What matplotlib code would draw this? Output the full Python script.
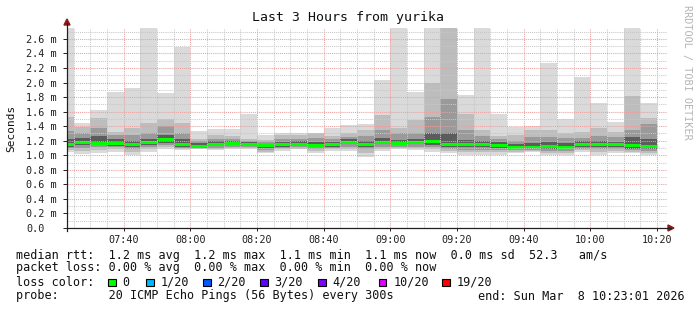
import matplotlib
matplotlib.use('Agg')
import matplotlib.pyplot as plt
import matplotlib.dates as mdates
import matplotlib.ticker as mticker
from matplotlib.patches import Rectangle, Polygon
from matplotlib.lines import Line2D
import datetime as dt

W, H = 697, 310
DPI = 100

title = "Last 3 Hours from yurika"
t_start = dt.datetime(2026, 3, 8, 7, 23, 1)
t_end = dt.datetime(2026, 3, 8, 10, 23, 1)
first_bin_end = dt.datetime(2026, 3, 8, 7, 25)
step_min = 5

# rtt quantiles per 5-minute bin (ms)
rtt_max = [3.0, 1.44, 1.62, 1.875, 1.93, 3.0, 1.86, 2.49, 1.34, 1.36, 1.36, 1.57,
           1.28, 1.30, 1.30, 1.31, 1.38, 1.42, 1.43, 2.04, 3.0, 1.875, 3.0, 3.0,
           1.83, 3.0, 1.57, 1.385, 1.40, 2.27, 1.50, 2.08, 1.72, 1.46, 3.0, 1.72]
rtt_p90 = [1.53, 1.39, 1.51, 1.32, 1.37, 1.44, 1.50, 1.44, 1.23, 1.28, 1.26, 1.23,
           1.21, 1.28, 1.28, 1.30, 1.26, 1.30, 1.35, 1.55, 1.37, 1.48, 1.99, 3.0,
           1.57, 1.35, 1.26, 1.28, 1.35, 1.35, 1.30, 1.32, 1.37, 1.32, 1.81, 1.51]
rtt_p75 = [1.33, 1.30, 1.38, 1.28, 1.28, 1.30, 1.40, 1.30, 1.20, 1.22, 1.22, 1.20,
           1.18, 1.22, 1.22, 1.24, 1.22, 1.25, 1.26, 1.35, 1.30, 1.30, 1.52, 1.77,
           1.35, 1.26, 1.22, 1.20, 1.25, 1.25, 1.24, 1.24, 1.26, 1.25, 1.35, 1.43]
rtt_p60 = [1.22, 1.24, 1.26, 1.22, 1.20, 1.23, 1.28, 1.22, 1.17, 1.19, 1.20, 1.18,
           1.16, 1.18, 1.19, 1.18, 1.18, 1.22, 1.19, 1.24, 1.21, 1.22, 1.30, 1.30,
           1.21, 1.20, 1.18, 1.15, 1.17, 1.18, 1.17, 1.20, 1.19, 1.18, 1.25, 1.22]
rtt_median = [1.155, 1.18, 1.175, 1.17, 1.155, 1.18, 1.22, 1.155, 1.13, 1.155, 1.175, 1.155,
              1.14, 1.15, 1.155, 1.14, 1.15, 1.185, 1.155, 1.185, 1.165, 1.185, 1.19, 1.155,
              1.15, 1.15, 1.14, 1.115, 1.11, 1.13, 1.12, 1.155, 1.15, 1.15, 1.14, 1.13]
rtt_p40 = [1.12, 1.14, 1.14, 1.13, 1.12, 1.14, 1.17, 1.12, 1.11, 1.13, 1.14, 1.13,
           1.10, 1.12, 1.13, 1.11, 1.12, 1.15, 1.12, 1.15, 1.14, 1.15, 1.14, 1.12,
           1.11, 1.11, 1.10, 1.09, 1.08, 1.09, 1.08, 1.12, 1.11, 1.12, 1.09, 1.09]
rtt_p25 = [1.10, 1.10, 1.11, 1.11, 1.08, 1.12, 1.14, 1.10, 1.10, 1.10, 1.11, 1.11,
           1.07, 1.10, 1.11, 1.08, 1.10, 1.11, 1.09, 1.12, 1.12, 1.12, 1.11, 1.09,
           1.07, 1.07, 1.07, 1.07, 1.07, 1.06, 1.06, 1.09, 1.08, 1.09, 1.07, 1.06]
rtt_p10 = [1.07, 1.06, 1.07, 1.08, 1.04, 1.08, 1.11, 1.09, 1.09, 1.09, 1.10, 1.10,
           1.05, 1.08, 1.09, 1.06, 1.08, 1.09, 1.03, 1.09, 1.10, 1.10, 1.08, 1.06,
           1.04, 1.04, 1.04, 1.05, 1.06, 1.03, 1.03, 1.07, 1.04, 1.06, 1.05, 1.03]
rtt_min = [1.05, 1.02, 1.03, 1.05, 1.00, 1.05, 1.085, 1.07, 1.08, 1.07, 1.08, 1.09,
           1.035, 1.06, 1.08, 1.035, 1.06, 1.06, 0.98, 1.06, 1.08, 1.07, 1.05, 1.03,
           1.00, 1.00, 1.00, 1.035, 1.05, 1.00, 1.00, 1.05, 1.00, 1.035, 1.03, 1.00]

y_ticks = [0.0, 0.2, 0.4, 0.6, 0.8, 1.0, 1.2, 1.4, 1.6, 1.8, 2.0, 2.2, 2.4, 2.6]
y_labels = ["0.0"] + ["%.1f m" % v for v in y_ticks[1:]]

legend_line1 = "median rtt:  1.2 ms avg  1.2 ms max  1.1 ms min  1.1 ms now  0.0 ms sd  52.3   am/s"
legend_line2 = "packet loss: 0.00 % avg  0.00 % max  0.00 % min  0.00 % now"
loss_labels = ["0", "1/20", "2/20", "3/20", "4/20", "10/20", "19/20"]
loss_colors = ["#00ff00", "#00b8ff", "#0059ff", "#5e00ff", "#7e00ff", "#dd00ff", "#ff0000"]
probe_text = "probe:       20 ICMP Echo Pings (56 Bytes) every 300s"
end_text = "end: Sun Mar  8 10:23:01 2026"

MONO = "DejaVu Sans Mono"
plt.rcParams['font.family'] = MONO

fig = plt.figure(figsize=(W / DPI, H / DPI), dpi=DPI, facecolor='white')

def fx(px):
    return px / W

def fy(py):
    return 1 - py / H

ax_l, ax_r, ax_t, ax_b = 67, 667, 28, 228
ax = fig.add_axes([fx(ax_l), fy(ax_b), (ax_r - ax_l) / W, (ax_b - ax_t) / H])
ax.set_facecolor('white')

bin_ends = [first_bin_end + dt.timedelta(minutes=step_min * i) for i in range(len(rtt_median))]
lefts = [mdates.date2num(e - dt.timedelta(minutes=step_min)) for e in bin_ends]
rights = [mdates.date2num(e) for e in bin_ends]
width = step_min / 1440.0

layers = [(rtt_min, rtt_max, '#dadada'),
          (rtt_p10, rtt_p90, '#bdbdbd'),
          (rtt_p25, rtt_p75, '#9a9a9a'),
          (rtt_p40, rtt_p60, '#5c5c5c')]
for lo, hi, col in layers:
    ax.bar(lefts, [h - l for l, h in zip(lo, hi)], bottom=lo, width=width,
           align='edge', color=col, edgecolor='none', linewidth=0, zorder=1)

ax.hlines(rtt_median, lefts, rights, colors='#00ff00', linewidth=2.2, zorder=2)

ax.set_xlim(mdates.date2num(t_start), mdates.date2num(t_end))
ax.set_ylim(0, 2.75)

ax.xaxis.set_major_locator(mdates.MinuteLocator(byminute=[0, 20, 40]))
ax.xaxis.set_minor_locator(mdates.MinuteLocator(byminute=range(0, 60, 5)))
ax.xaxis.set_major_formatter(mdates.DateFormatter('%H:%M'))
ax.set_yticks(y_ticks)
ax.set_yticklabels(y_labels)
ax.yaxis.set_minor_locator(mticker.MultipleLocator(0.1))

ax.grid(which='major', color='#eaa0a0', linestyle=(0, (1, 1)), linewidth=0.75)
ax.grid(which='minor', color='#c8c8c8', linestyle=(0, (1, 1)), linewidth=0.75)
ax.set_axisbelow(False)

for s in ax.spines.values():
    s.set_visible(False)

ax.tick_params(axis='x', which='major', length=2, width=0.7, pad=3, labelsize=7.3, colors='#202020')
ax.tick_params(axis='x', which='minor', length=0)
ax.tick_params(axis='y', which='major', length=3, width=0.7, pad=26.5, labelsize=7.3, colors='#202020')
ax.tick_params(axis='y', which='minor', length=0)
for lab in ax.get_yticklabels():
    lab.set_horizontalalignment('left')

# axis lines with arrows
axis_col = '#202020'
arrow_col = '#8c1a1a'
fig.add_artist(Line2D([fx(ax_l), fx(671)], [fy(ax_b), fy(ax_b)], color=axis_col, lw=0.9))
fig.add_artist(Line2D([fx(ax_l), fx(ax_l)], [fy(ax_b + 3), fy(23)], color=axis_col, lw=0.9))
fig.add_artist(Polygon([[fx(668), fy(225)], [fx(668), fy(231)], [fx(674), fy(228)]],
                       closed=True, color=arrow_col, transform=fig.transFigure))
fig.add_artist(Polygon([[fx(64), fy(25)], [fx(70), fy(25)], [fx(67), fy(19)]],
                       closed=True, color=arrow_col, transform=fig.transFigure))

# texts
fig.text(0.5, fy(17), title, ha='center', va='center', fontsize=9.5, color='#101010')
fig.text(fx(11), fy(128), "Seconds", rotation=90, ha='center', va='center', fontsize=8, color='#101010')
fig.text(fx(687), fy(5), "RRDTOOL / TOBI OETIKER", rotation=270, ha='center', va='top',
         fontsize=7.3, color='#b4b4b4')

fs = 8.5
fig.text(fx(16), fy(255), legend_line1, ha='left', va='center', fontsize=fs, color='#101010')
fig.text(fx(16), fy(268), legend_line2, ha='left', va='center', fontsize=fs, color='#101010')
fig.text(fx(16), fy(282), "loss color:", ha='left', va='center', fontsize=fs, color='#101010')
box_x = [108, 146, 203, 260, 318, 379, 442]
for bx, lab, col in zip(box_x, loss_labels, loss_colors):
    fig.add_artist(Rectangle((fx(bx), fy(286)), 7.5 / W, 7 / H, transform=fig.transFigure,
                             facecolor=col, edgecolor='black', linewidth=0.8))
    fig.text(fx(bx + 14.5), fy(282), lab, ha='left', va='center', fontsize=fs, color='#101010')
fig.text(fx(16), fy(296), probe_text, ha='left', va='center', fontsize=fs, color='#101010')
fig.text(fx(478), fy(296), end_text, ha='left', va='center', fontsize=fs, color='#101010')

fig.savefig('out.png', dpi=DPI, facecolor='white')
